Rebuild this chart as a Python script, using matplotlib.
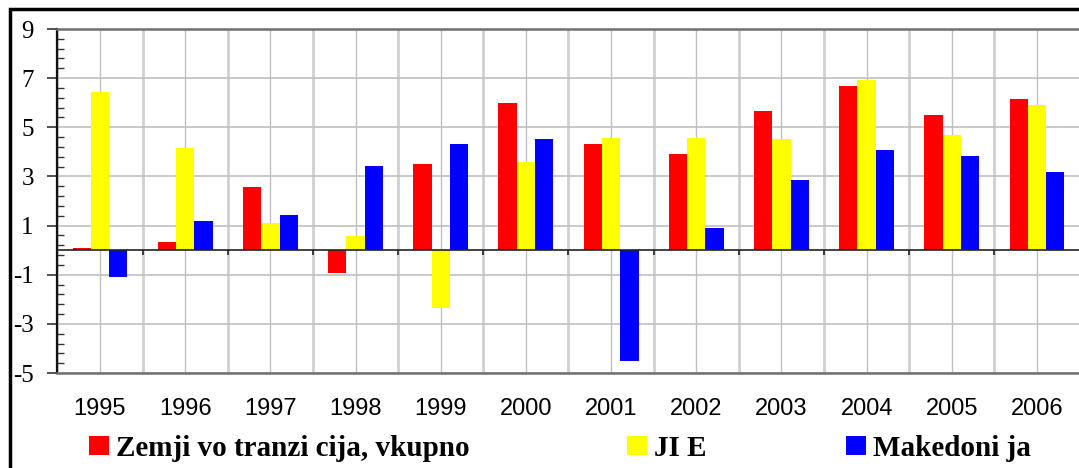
import matplotlib.pyplot as plt
import matplotlib.patches as patches
import numpy as np

plt.rcParams['axes.unicode_minus'] = False

# Data
years = ['1995', '1996', '1997', '1998', '1999', '2000',
         '2001', '2002', '2003', '2004', '2005', '2006']
tranzicija = [0.09, 0.34, 2.56, -0.92, 3.50, 5.98, 4.31, 3.91, 5.66, 6.67, 5.49, 6.15]
jie = [6.44, 4.16, 1.11, 0.58, -2.35, 3.59, 4.57, 4.57, 4.52, 6.92, 4.68, 5.90]
makedonija = [-1.09, 1.19, 1.42, 3.43, 4.31, 4.52, -4.50, 0.90, 2.85, 4.07, 3.83, 3.17]
labels = ['Zemji vo tranzi cija, vkupno', 'JI E', 'Makedoni ja']

W, H = 1079, 468
fig = plt.figure(figsize=(W / 100, H / 100), dpi=100)
fig.patch.set_facecolor('white')

# axes box in pixels: left 57.4, right 1079.6, top 29, bottom 373
ax = fig.add_axes([57.4 / W, (H - 373) / H, 1022.2 / W, 344 / H])

x = np.arange(len(years))
w = 0.215
b1 = ax.bar(x - w, tranzicija, w, color='#ff0000', label=labels[0], zorder=3)
b2 = ax.bar(x, jie, w, color='#ffff00', label=labels[1], zorder=3)
b3 = ax.bar(x + w, makedonija, w, color='#0000ff', label=labels[2], zorder=3)

ax.set_xlim(-0.5, len(years) - 0.5)
ax.set_ylim(-5, 9)

# y axis: majors every 2, minors every 0.4
ax.set_yticks(np.arange(-5, 10, 2))
ax.set_yticks(np.arange(-5, 9.01, 0.4), minor=True)
ax.tick_params(axis='y', which='major', direction='out', length=7, width=1.2,
               color='#333333', pad=10)
ax.tick_params(axis='y', which='minor', direction='in', length=5, width=1,
               color='#333333')
for lab in ax.get_yticklabels():
    lab.set_family(['Liberation Serif', 'DejaVu Serif'])
    lab.set_fontsize(18)

# x axis: labels at centres, gridlines at centres and boundaries
ax.set_xticks(x)
ax.set_xticklabels(years, family=['Liberation Sans', 'DejaVu Sans'], fontsize=17)
ax.set_xticks(np.arange(-0.5, len(years), 1.0), minor=True)
ax.tick_params(axis='x', which='both', length=0, pad=18)

ax.grid(axis='y', which='major', color='#c0c0c0', lw=1.2, zorder=0)
ax.grid(axis='x', which='major', color='#c0c0c0', lw=1.0, zorder=0)
ax.grid(axis='x', which='minor', color='#d0d0d0', lw=2.0, zorder=0)

# zero line with small ticks at category boundaries
ax.axhline(0, color='#222222', lw=1.2, zorder=4)
bounds = np.arange(0.5, len(years) - 1, 1.0)
ax.vlines(bounds, -0.2, 0, color='#222222', lw=1.2, zorder=4)

ax.spines['left'].set_color('#111111')
ax.spines['left'].set_linewidth(1.6)
ax.spines['top'].set_color('#707070')
ax.spines['top'].set_linewidth(1.8)
ax.spines['bottom'].set_color('#707070')
ax.spines['bottom'].set_linewidth(1.8)
ax.spines['right'].set_visible(False)

# legend along the bottom, one entry per position
leg_x = [89, 627, 846]
for handle, lab, lx in zip([b1, b2, b3], labels, leg_x):
    leg = fig.legend([handle], [lab], loc='center left',
                     bbox_to_anchor=(lx / W, 1 - 448 / H),
                     frameon=False, borderpad=0, borderaxespad=0,
                     handlelength=0.68, handleheight=0.62, handletextpad=0.25,
                     prop={'family': ['Liberation Serif', 'DejaVu Serif'],
                           'weight': 'bold', 'size': 21})

# outer frame (cropped on the right and bottom)
frame = patches.Rectangle((9.5 / W, -0.05), 1.2, 1 - 8.7 / H + 0.05,
                          transform=fig.transFigure, fill=False,
                          edgecolor='black', lw=2.5, clip_on=False)
fig.patches.append(frame)

plt.savefig('out.png', dpi=100, facecolor='white')
plt.close()
